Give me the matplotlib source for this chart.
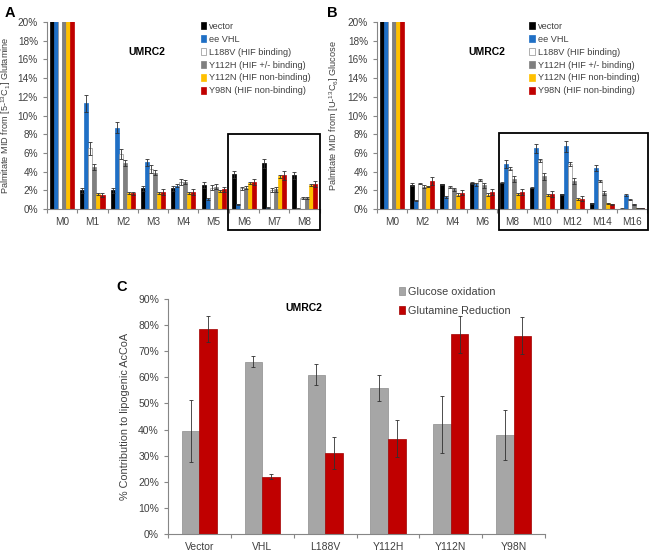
import numpy as np
import matplotlib.pyplot as plt
from matplotlib.patches import Rectangle
from matplotlib.ticker import FuncFormatter

plt.rcParams['font.family'] = ['Liberation Sans', 'DejaVu Sans']
plt.rcParams['mathtext.default'] = 'regular'

# ---- data ----
series = ['vector', 'ee VHL', 'L188V (HIF binding)', 'Y112H (HIF +/- binding)',
          'Y112N (HIF non-binding)', 'Y98N (HIF non-binding)']
colors = ['#000000', '#1f6fc5', '#ffffff', '#7f7f7f', '#ffc000', '#c00000']

groups_a = ['M0', 'M1', 'M2', 'M3', 'M4', 'M5', 'M6', 'M7', 'M8']
# rows = series, cols = groups (M0 is off scale)
vals_a = [
    [60, 2.0, 2.0, 2.2, 2.2, 2.6, 3.7, 4.9, 3.6],
    [60, 11.3, 8.7, 5.0, 2.5, 1.1, 0.5, 0.15, 0.05],
    [60, 6.5, 5.9, 4.3, 2.9, 2.3, 2.2, 2.0, 1.2],
    [60, 4.5, 4.9, 3.9, 2.9, 2.4, 2.3, 2.1, 1.2],
    [60, 1.6, 1.7, 1.7, 1.7, 1.9, 2.8, 3.5, 2.6],
    [60, 1.5, 1.7, 1.8, 1.8, 2.1, 2.9, 3.6, 2.7],
]
err_a = [
    [0, 0.3, 0.3, 0.3, 0.3, 0.3, 0.35, 0.5, 0.35],
    [0, 0.9, 0.6, 0.35, 0.15, 0.1, 0.05, 0.05, 0.02],
    [0, 0.7, 0.5, 0.4, 0.3, 0.3, 0.2, 0.2, 0.1],
    [0, 0.35, 0.35, 0.3, 0.25, 0.3, 0.2, 0.25, 0.1],
    [0, 0.1, 0.1, 0.1, 0.1, 0.1, 0.1, 0.15, 0.1],
    [0, 0.2, 0.15, 0.35, 0.3, 0.3, 0.35, 0.45, 0.3],
]

groups_b = ['M0', 'M2', 'M4', 'M6', 'M8', 'M10', 'M12', 'M14', 'M16']
vals_b = [
    [60, 2.6, 2.65, 2.8, 2.8, 2.3, 1.6, 0.6, 0.05],
    [60, 0.9, 1.3, 2.65, 4.8, 6.5, 6.7, 4.4, 1.5],
    [60, 2.7, 2.35, 3.1, 4.3, 5.2, 4.8, 3.0, 1.0],
    [60, 2.4, 2.1, 2.55, 3.2, 3.5, 3.0, 1.7, 0.5],
    [60, 2.45, 1.55, 1.55, 1.6, 1.5, 1.1, 0.6, 0.1],
    [60, 3.0, 1.75, 1.8, 1.8, 1.6, 1.1, 0.5, 0.1],
]
err_b = [
    [0, 0.15, 0.05, 0.1, 0.05, 0.05, 0.05, 0.05, 0.02],
    [0, 0.05, 0.1, 0.15, 0.4, 0.5, 0.6, 0.3, 0.1],
    [0, 0.05, 0.1, 0.1, 0.15, 0.2, 0.25, 0.1, 0.05],
    [0, 0.2, 0.2, 0.25, 0.3, 0.4, 0.35, 0.25, 0.05],
    [0, 0.05, 0.15, 0.15, 0.15, 0.15, 0.1, 0.05, 0.02],
    [0, 0.4, 0.25, 0.35, 0.35, 0.3, 0.25, 0.05, 0.02],
]

groups_c = ['Vector', 'VHL', 'L188V', 'Y112H', 'Y112N', 'Y98N']
glc_ox = [39.5, 66.0, 61.0, 56.0, 42.0, 38.0]
glc_ox_err = [12.0, 2.0, 4.0, 5.0, 11.0, 9.5]
gln_red = [78.5, 22.0, 31.0, 36.5, 76.5, 76.0]
gln_red_err = [5.0, 1.0, 6.0, 7.0, 7.0, 7.0]

axis_gray = '#868686'
txt_gray = '#404040'


def style_axis(ax, fs):
    for s in ['top', 'right']:
        ax.spines[s].set_visible(False)
    for s in ['left', 'bottom']:
        ax.spines[s].set_color(axis_gray)
        ax.spines[s].set_linewidth(0.8)
    ax.tick_params(axis='y', colors=axis_gray, labelcolor=txt_gray, length=3, width=0.8, labelsize=fs)
    ax.tick_params(axis='x', which='major', length=0, labelcolor=txt_gray, labelsize=fs, pad=6)
    ax.tick_params(axis='x', which='minor', length=3, color=axis_gray, width=0.8)


def mid_panel(ax, groups, vals, errs, ylabel, title_x, label_x):
    x = np.arange(len(groups))
    w = 0.133
    for i in range(len(series)):
        pos = x + (i - 2.5) * w
        ec = '#909090' if colors[i] == '#ffffff' else colors[i]
        ax.bar(pos, vals[i], w, color=colors[i], edgecolor=ec, linewidth=0.5, label=series[i])
        ax.errorbar(pos[1:], vals[i][1:], yerr=errs[i][1:], fmt='none', ecolor='#303030',
                    elinewidth=0.6, capsize=1.5, capthick=0.6)
    ax.set_xlim(-0.5, len(groups) - 0.5)
    ax.set_ylim(0, 20)
    ax.set_yticks(np.arange(0, 21, 2))
    ax.yaxis.set_major_formatter(FuncFormatter(lambda v, p: '%d%%' % v))
    ax.set_xticks(x)
    ax.set_xticklabels(groups)
    ax.set_xticks(np.arange(-0.5, len(groups), 1), minor=True)
    style_axis(ax, 7.2)
    ax.set_ylabel(ylabel, fontsize=6.6, color=txt_gray)
    ax.yaxis.set_label_coords(label_x, 0.5)
    ax.text(title_x, 0.84, 'UMRC2', transform=ax.transAxes, fontsize=7.5, fontweight='bold',
            ha='center', va='center')
    ax.legend(loc='upper left', bbox_to_anchor=(0.55, 1.02), frameon=False, fontsize=6.6,
              handlelength=0.6, handleheight=0.8, handletextpad=0.3, labelspacing=0.42,
              borderaxespad=0, labelcolor=txt_gray)


fig = plt.figure(figsize=(6.54, 5.54), dpi=100)

ax_a = fig.add_axes([0.0718, 0.6227, 0.417, 0.3375])
mid_panel(ax_a, groups_a, vals_a, err_a, 'Palmitate MID from [5-$^{13}$C$_{1}$] Glutamine',
          0.365, -0.125)

ax_b = fig.add_axes([0.5765, 0.6227, 0.413, 0.3375])
mid_panel(ax_b, groups_b, vals_b, err_b, 'Palmitate MID from [U-$^{13}$C$_{6}$] Glucose',
          0.405, -0.135)

# highlight boxes
fig.patches.append(Rectangle((228 / 654, 1 - 230 / 554), 92 / 654, 96 / 554, fill=False,
                             edgecolor='black', linewidth=1.3, transform=fig.transFigure))
fig.patches.append(Rectangle((499 / 654, 1 - 230 / 554), 149 / 654, 97 / 554, fill=False,
                             edgecolor='black', linewidth=1.3, transform=fig.transFigure))

# panel C
ax_c = fig.add_axes([0.2569, 0.0361, 0.5765, 0.4242])
xc = np.arange(len(groups_c))
wc = 0.28
ax_c.bar(xc - wc / 2, glc_ox, wc, color='#a6a6a6', edgecolor='#8c8c8c', linewidth=0.5,
         label='Glucose oxidation')
ax_c.bar(xc + wc / 2, gln_red, wc, color='#c00000', edgecolor='#a00000', linewidth=0.5,
         label='Glutamine Reduction')
ax_c.errorbar(xc - wc / 2, glc_ox, yerr=glc_ox_err, fmt='none', ecolor='#303030',
              elinewidth=0.6, capsize=1.5, capthick=0.6)
ax_c.errorbar(xc + wc / 2, gln_red, yerr=gln_red_err, fmt='none', ecolor='#303030',
              elinewidth=0.6, capsize=1.5, capthick=0.6)
ax_c.set_xlim(-0.5, len(groups_c) - 0.5)
ax_c.set_ylim(0, 90)
ax_c.set_yticks(np.arange(0, 91, 10))
ax_c.yaxis.set_major_formatter(FuncFormatter(lambda v, p: '%d%%' % v))
ax_c.set_xticks(xc)
ax_c.set_xticklabels(groups_c)
ax_c.set_xticks(np.arange(-0.5, len(groups_c), 1), minor=True)
style_axis(ax_c, 7.5)
ax_c.set_ylabel('% Contribution to lipogenic AcCoA', fontsize=7.8, color=txt_gray, labelpad=6)
ax_c.text(0.36, 0.96, 'UMRC2', transform=ax_c.transAxes, fontsize=7.5, fontweight='bold',
          ha='center', va='center')
ax_c.legend(loc='upper left', bbox_to_anchor=(0.6, 1.07), frameon=False, fontsize=7.8,
            handlelength=0.6, handleheight=0.8, handletextpad=0.3, labelspacing=0.85,
            borderaxespad=0, labelcolor=txt_gray)

# panel letters
fig.text(10 / 654, 1 - 13 / 554, 'A', fontsize=10.5, fontweight='bold', ha='center', va='center')
fig.text(332 / 654, 1 - 13 / 554, 'B', fontsize=10.5, fontweight='bold', ha='center', va='center')
fig.text(122 / 654, 1 - 287 / 554, 'C', fontsize=10.5, fontweight='bold', ha='center', va='center')

fig.savefig('out.png', dpi=100)
